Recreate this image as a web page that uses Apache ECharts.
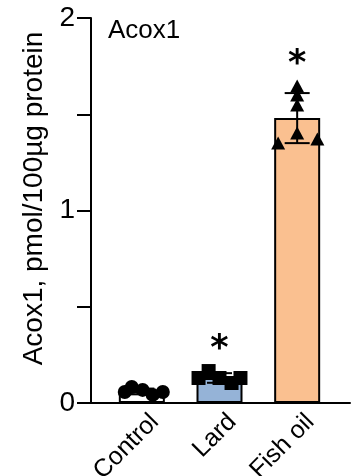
<!DOCTYPE html>
<html>
<head>
<meta charset="utf-8">
<script src="https://cdn.jsdelivr.net/npm/echarts@6/dist/echarts.min.js"></script>
<style>html,body{margin:0;padding:0;background:#fff;}#c{width:358px;height:476px;}</style>
</head>
<body>
<div id="c"></div>
<script>
const categories = ['Control', 'Lard', 'Fish oil'];
const means = [0.06, 0.13, 1.48];
const sds = [0.015, 0.025, 0.13];
const significant = [false, true, true];
const controlPts = [0.057, 0.083, 0.068, 0.042, 0.057];
const controlJit = [-0.22, -0.13, 0.01, 0.14, 0.27];
const lardPts = [0.13, 0.166, 0.13, 0.104, 0.13];
const lardJit = [-0.27, -0.14, 0, 0.155, 0.27];
const fishPts = [1.647, 1.60, 1.548, 1.403, 1.351, 1.371];
const fishJit = [0, 0, 0, 0, -0.245, 0.26];
const yTickLabels = ['0', '1', '2'];
const yName = 'Acox1, pmol/100µg protein';
const titleText = 'Acox1';

const barColors = ['#ffffff', '#95B3D7', '#FAC090'];
const FONT = 'Liberation Sans, Arial, sans-serif';
const groupPts = [controlPts, lardPts, fishPts];

const chart = echarts.init(document.getElementById('c'), null, {renderer: 'canvas'});

function pts(vals, jit, idx) {
  return vals.map((v, k) => [idx + jit[k], v]);
}

const option = {
  animation: false,
  title: {
    text: titleText, left: 103, top: 13,
    textStyle: {fontFamily: FONT, fontSize: 26, fontWeight: 'normal', color: '#000'}
  },
  grid: [
    {left: 91, top: 18, width: 259, height: 385, containLabel: false, outerBoundsMode: 'none'},
    {left: 103, top: 18, width: 233, height: 385, containLabel: false, outerBoundsMode: 'none'}
  ],
  xAxis: [
    {gridIndex: 0, type: 'value', min: 0, max: 1, position: 'bottom',
     axisLine: {show: true, onZero: false, lineStyle: {color: '#000', width: 2}},
     axisTick: {show: false}, axisLabel: {show: false}, splitLine: {show: false}},
    {gridIndex: 1, type: 'category', data: categories, position: 'bottom',
     axisLine: {show: false, onZero: false}, axisTick: {show: false},
     axisLabel: {rotate: 45, margin: 2, verticalAlign: 'top', padding: [6, 0, 0, 0],
       fontFamily: FONT, fontSize: 25, color: '#000', interval: 0}},
    {gridIndex: 1, type: 'value', min: -0.5, max: 2.5, show: false}
  ],
  yAxis: [
    {gridIndex: 0, type: 'value', min: 0, max: 2, interval: 0.5,
     name: yName, nameLocation: 'middle', nameGap: 43,
     nameTextStyle: {fontFamily: FONT, fontSize: 28, color: '#000', padding: [0, 0, 0, 24]},
     axisLine: {show: true, lineStyle: {color: '#000', width: 2}},
     axisTick: {show: true, length: 14, lineStyle: {color: '#000', width: 2}},
     axisLabel: {margin: 16, fontFamily: FONT, fontSize: 28, color: '#000',
       formatter: v => (Math.abs(v - Math.round(v)) < 1e-9 ? yTickLabels[Math.round(v)] : '')},
     splitLine: {show: false}},
    {gridIndex: 1, type: 'value', min: 0, max: 2, show: false}
  ],
  series: [
    {type: 'bar', xAxisIndex: 1, yAxisIndex: 1, barWidth: 46, z: 2,
     data: means.map((m, i) => ({value: m, itemStyle: {color: barColors[i], borderColor: '#000', borderWidth: 2}}))},
    {type: 'custom', xAxisIndex: 1, yAxisIndex: 1, z: 3,
     data: means.map((m, i) => [i, m, sds[i], significant[i] ? 1 : 0, Math.max(m + sds[i], ...groupPts[i])]),
     renderItem: function (params, api) {
       const i = api.value(0), m = api.value(1), s = api.value(2), sig = api.value(3), hi = api.value(4);
       const top = api.coord([i, m + s]);
       const bot = api.coord([i, m - s]);
       const peak = api.coord([i, hi]);
       const hw = 12.5;
       const st = {stroke: '#000', lineWidth: 2};
       const children = [
         {type: 'line', shape: {x1: top[0], y1: top[1], x2: bot[0], y2: bot[1]}, style: st},
         {type: 'line', shape: {x1: top[0] - hw, y1: top[1], x2: top[0] + hw, y2: top[1]}, style: st},
         {type: 'line', shape: {x1: bot[0] - hw, y1: bot[1], x2: bot[0] + hw, y2: bot[1]}, style: st}
       ];
       if (sig) {
         children.push({type: 'text', x: peak[0], y: peak[1] - 21,
           style: {text: '*', fontFamily: 'DejaVu Sans', fontWeight: 'bold', fontSize: 35, fill: '#000', align: 'center', verticalAlign: 'middle'}});
       }
       return {type: 'group', children: children};
     }},
    {type: 'scatter', xAxisIndex: 2, yAxisIndex: 1, symbol: 'circle', symbolSize: 14, z: 4,
     itemStyle: {color: '#000', opacity: 1}, data: pts(controlPts, controlJit, 0)},
    {type: 'scatter', xAxisIndex: 2, yAxisIndex: 1, symbol: 'rect', symbolSize: 14, z: 4,
     itemStyle: {color: '#000', opacity: 1}, data: pts(lardPts, lardJit, 1)},
    {type: 'scatter', xAxisIndex: 2, yAxisIndex: 1, symbol: 'triangle', symbolSize: [14, 13], z: 4,
     itemStyle: {color: '#000', opacity: 1}, data: pts(fishPts, fishJit, 2)}
  ]
};
chart.setOption(option);
</script>
</body>
</html>
